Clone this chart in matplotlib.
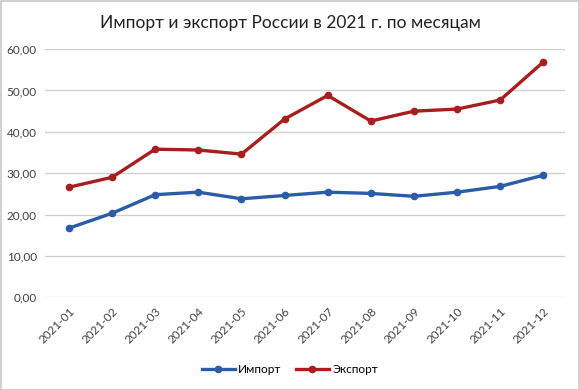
import matplotlib.pyplot as plt
from matplotlib.patches import Rectangle

months = ["2021-01", "2021-02", "2021-03", "2021-04", "2021-05", "2021-06",
          "2021-07", "2021-08", "2021-09", "2021-10", "2021-11", "2021-12"]
imports = [16.7, 20.3, 24.8, 25.4, 23.8, 24.6, 25.4, 25.1, 24.4, 25.4, 26.8, 29.5]
exports = [26.6, 29.0, 35.8, 35.6, 34.6, 43.1, 48.8, 42.6, 45.0, 45.5, 47.7, 56.9]
yticks = [0, 10, 20, 30, 40, 50, 60]

plt.rcParams['font.family'] = ['Lato', 'DejaVu Sans']

fig = plt.figure(figsize=(5.8, 3.9), dpi=100)
ax = fig.add_axes([0.078, 0.238, 0.896, 0.636])

x = list(range(len(months)))
ax.plot(x, imports, color='#2a5ca8', lw=2.4, marker='o', ms=4.5, label='Импорт')
ax.plot(x, exports, color='#a81e1e', lw=2.4, marker='o', ms=4.5, label='Экспорт')

ax.set_xlim(-0.55, 11.5)
ax.set_ylim(0, 60)
ax.set_yticks(yticks)
ax.set_yticklabels([f"{v:.2f}".replace('.', ',') for v in yticks], fontsize=8.5, color='#404040')
ax.set_xticks(x)
ax.set_xticklabels(months, rotation=45, ha='right', rotation_mode='anchor',
                   fontsize=8.5, color='#404040')
ax.tick_params(length=0, pad=6)
ax.grid(axis='y', color='#d0d0d0', lw=1)
ax.set_axisbelow(True)
for s in ax.spines.values():
    s.set_visible(False)

fig.text(0.5, 0.94, "Импорт и экспорт России в 2021 г. по месяцам",
         ha='center', va='center', fontsize=12.5, color='#202020')
fig.legend(loc='center', bbox_to_anchor=(0.5, 0.052), ncol=2, frameon=False,
           fontsize=8.5, handlelength=2.8, columnspacing=1.2, handletextpad=0.3)

fig.patches.append(Rectangle((0.001, 0.001), 0.997, 0.996, transform=fig.transFigure,
                             fill=False, edgecolor='#c8c8c8', lw=1.2))
fig.savefig("out.png", dpi=100)
